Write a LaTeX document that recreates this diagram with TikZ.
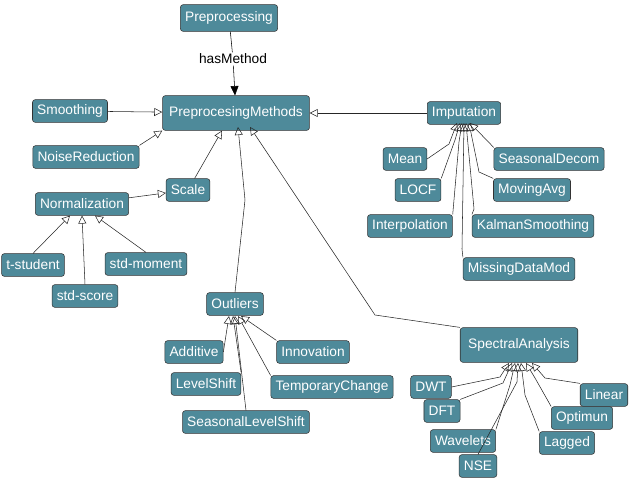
\documentclass[tikz,border=0pt]{standalone}
\usepackage{fontspec}
\setmainfont{Liberation Sans}
\usetikzlibrary{arrows.meta}
\definecolor{boxfill}{HTML}{4E8A9A}
\tikzset{
  box/.style={draw=black!80, fill=boxfill, text=white, rounded corners=2pt, inner sep=3.5pt, minimum height=17pt, font=\fontsize{10.3}{12}\selectfont},
  isa/.style={-{Triangle[open, length=6pt, width=6pt]}, black!85}
}
\begin{document}
\begin{tikzpicture}[x=0.75pt, y=-0.75pt]
\useasboundingbox (0,0) rectangle (640,478);

\node (1) [box, minimum height=20pt] at (229,18) {Preprocessing};
\node (2) [box, minimum height=26pt, inner xsep=5pt] at (236,113) {PreprocesingMethods};
\node (3) [font=\fontsize{10.3}{12}\selectfont, fill=white, inner sep=1pt] at (233,59) {hasMethod};

\node (4) [box] at (70,111) {Smoothing};
\node (5) [box] at (86,157) {NoiseReduction};
\node (6) [box] at (188,190) {Scale};
\node (7) [box] at (82,204) {Normalization};
\node (8) [box] at (33,265) {t-student};
\node (9) [box] at (85,296) {std-score};
\node (10) [box] at (146,264) {std-moment};

\node (11) [box] at (235,304) {Outliers};
\node (12) [box] at (194,352) {Additive};
\node (13) [box] at (313,352) {Innovation};
\node (14) [box] at (206,384) {LevelShift};
\node (15) [box] at (332,387) {TemporaryChange};
\node (16) [box] at (246,422) {SeasonalLevelShift};

\node (17) [box] at (464,113) {Imputation};
\node (18) [box] at (405,159) {Mean};
\node (19) [box] at (549,159) {SeasonalDecom};
\node (20) [box] at (418,190) {LOCF};
\node (21) [box] at (532,190) {MovingAvg};
\node (22) [box] at (410,226) {Interpolation};
\node (23) [box] at (533,226) {KalmanSmoothing};
\node (24) [box] at (519,269) {MissingDataMod};

\node (25) [box, minimum height=26pt, inner xsep=6pt] at (519,345) {SpectralAnalysis};
\node (26) [box] at (431,387) {DWT};
\node (27) [box] at (442,411) {DFT};
\node (28) [box] at (463,441) {Wavelets};
\node (29) [box] at (478,466) {NSE};
\node (30) [box] at (567,443) {Lagged};
\node (31) [box] at (582,418) {Optimun};
\node (32) [box] at (604,395) {Linear};

\draw (1) -- (3);
\draw [-{Triangle[length=7pt, width=6pt]}] (3) -- (2);

\draw [isa] (4) -- (2);
\draw [isa] (5.north east) -- (2.south west);
\draw [isa] (6) -- (2.south -| 222,0);
\draw [isa] (17) -- (2);
\draw [isa] (11.north) -- (245,200) -- (238,127);
\draw [isa] (25.north west) -- (375,315) -- (250,127);

\draw [isa] (7) -- (6);
\draw [isa] (8.north) -- (7.south -| 70,0);
\draw [isa] (9.north) -- (7.south -| 82,0);
\draw [isa] (10.north) -- (7.south -| 95,0);

\draw [isa] (12.east) -- (229,316);
\draw [isa] (14.north east) -- (233,316);
\draw [isa] (16.north) -- (235,316);
\draw [isa] (15.north west) -- (238,316);
\draw [isa] (13.north west) -- (241,316);

\draw [isa] (18.east) -- (449,144) -- (457,123);
\draw [isa] (20.north east) -- (455,140) -- (460,123);
\draw [isa] (22.north east) -- (459,142) -- (462,123);
\draw [isa] (24.north west) -- (462,249) -- (464,123);
\draw [isa] (23.north west) -- (474,209) -- (466,123);
\draw [isa] (21.north west) -- (479,172) -- (469,123);
\draw [isa] (19.north west) -- (470,123);

\draw [isa] (26.east) -- (500,377) -- (509,363);
\draw [isa] (27.north east) -- (503,383) -- (512,363);
\draw [isa] (28.north east) -- (510,385) -- (515,363);
\draw [isa] (29.north) -- (517,382) -- (518,363);
\draw [isa] (30.north west) -- (525,395) -- (521,363);
\draw [isa] (31.north west) -- (535,378) -- (526,363);
\draw [isa] (32.north west) -- (545,378) -- (532,363);
\end{tikzpicture}
\end{document}
